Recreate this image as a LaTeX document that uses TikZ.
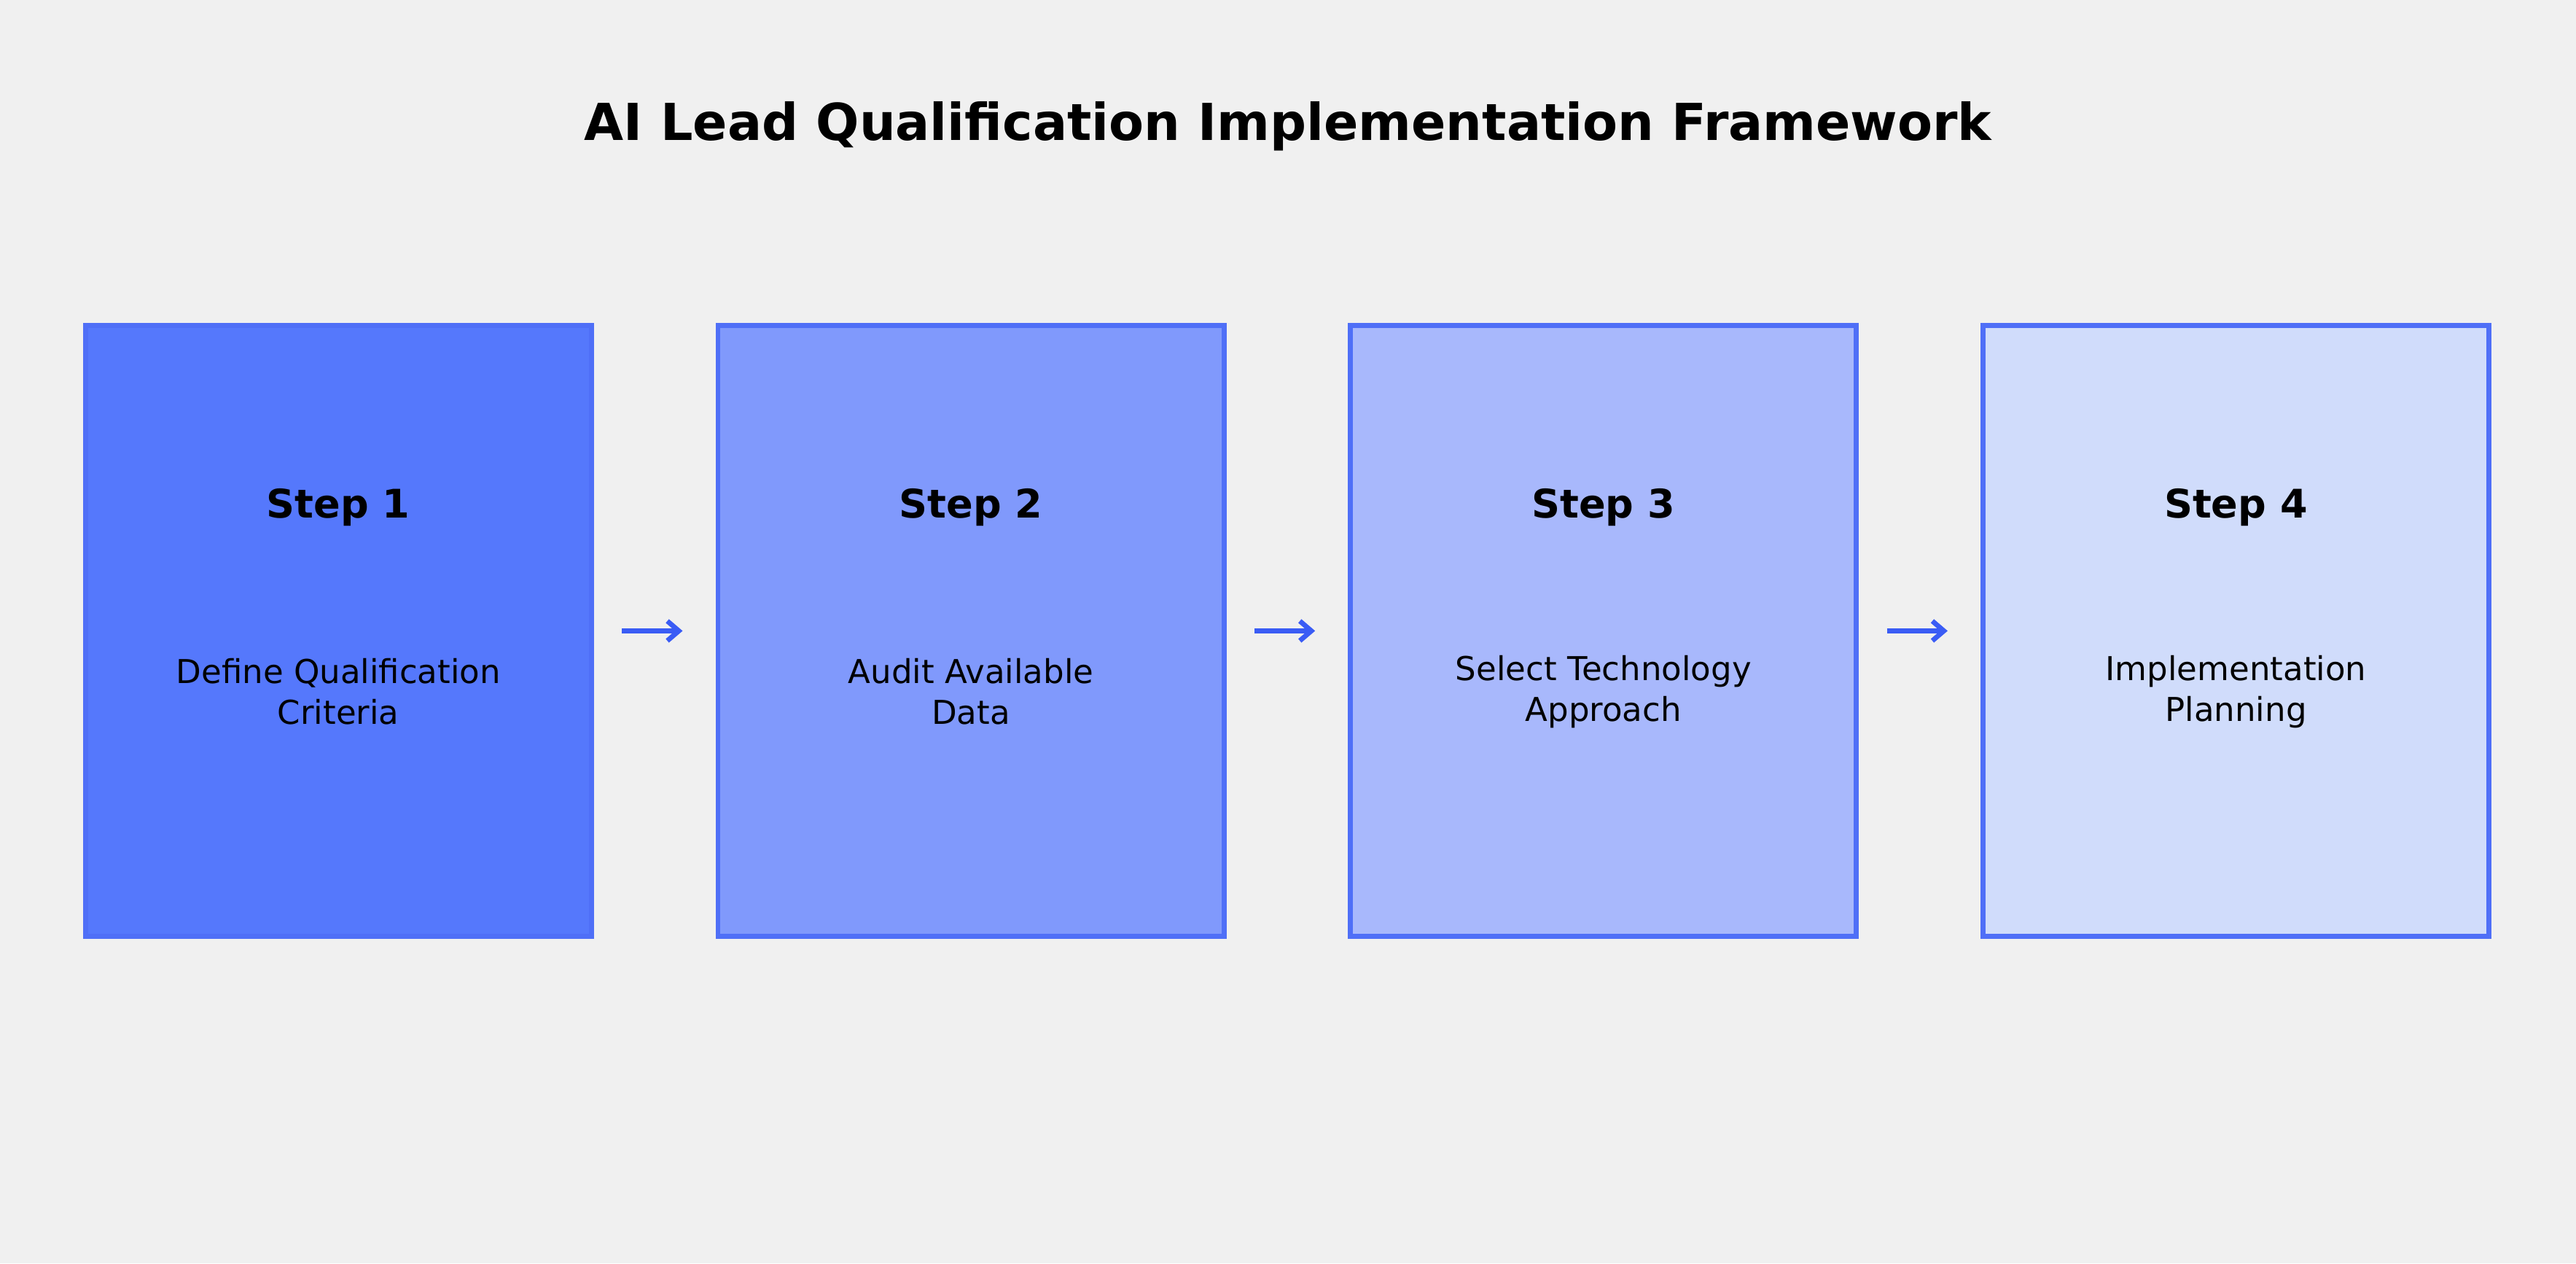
\documentclass[tikz,border=0pt]{standalone}
\usepackage{fontspec}
\setmainfont{DejaVu Sans}
\usetikzlibrary{arrows.meta}
\definecolor{bg}{HTML}{F0F0F0}
\definecolor{edge}{HTML}{4F6FF7}
\definecolor{arr}{HTML}{3A5CF5}
\definecolor{fa}{HTML}{5578FC}
\definecolor{fb}{HTML}{8099FC}
\definecolor{fc}{HTML}{A8B8FC}
\definecolor{fd}{HTML}{D0DCFB}
\begin{document}
\begin{tikzpicture}[x=1pt,y=-1pt,
  stepbox/.style={draw=edge,line width=3pt,minimum width=308pt,minimum height=372pt,inner sep=0pt},
  steptitle/.style={font=\fontsize{24}{29}\selectfont\bfseries},
  stepbody/.style={font=\fontsize{20}{25}\selectfont,align=center},
  flow/.style={draw=arr,line width=3pt,-{Straight Barb[length=7pt,width=12pt]}}]
\fill[bg] (0,0) rectangle (1568,769);
\useasboundingbox (0,0) rectangle (1568,769);
\node[font=\fontsize{31}{37}\selectfont\bfseries] (title) at (784,77) {AI Lead Qualification Implementation Framework};
\node[stepbox,fill=fa] (b1) at (206,384) {};
\node[stepbox,fill=fb] (b2) at (591,384) {};
\node[stepbox,fill=fc] (b3) at (976,384) {};
\node[stepbox,fill=fd] (b4) at (1361,384) {};
\node[steptitle] (t1) at (206,309) {Step 1};
\node[steptitle] (t2) at (591,309) {Step 2};
\node[steptitle] (t3) at (976,309) {Step 3};
\node[steptitle] (t4) at (1361,309) {Step 4};
\node[stepbody] (d1) at (206,421) {Define Qualification\\Criteria};
\node[stepbody] (d2) at (591,421) {Audit Available\\Data};
\node[stepbody] (d3) at (976,421) {Select Technology\\Approach};
\node[stepbody] (d4) at (1361,421) {Implementation\\Planning};
\draw[flow] ([xshift=17pt]b1.east) -- ([xshift=-20pt]b2.west);
\draw[flow] ([xshift=17pt]b2.east) -- ([xshift=-20pt]b3.west);
\draw[flow] ([xshift=17pt]b3.east) -- ([xshift=-20pt]b4.west);
\end{tikzpicture}
\end{document}
